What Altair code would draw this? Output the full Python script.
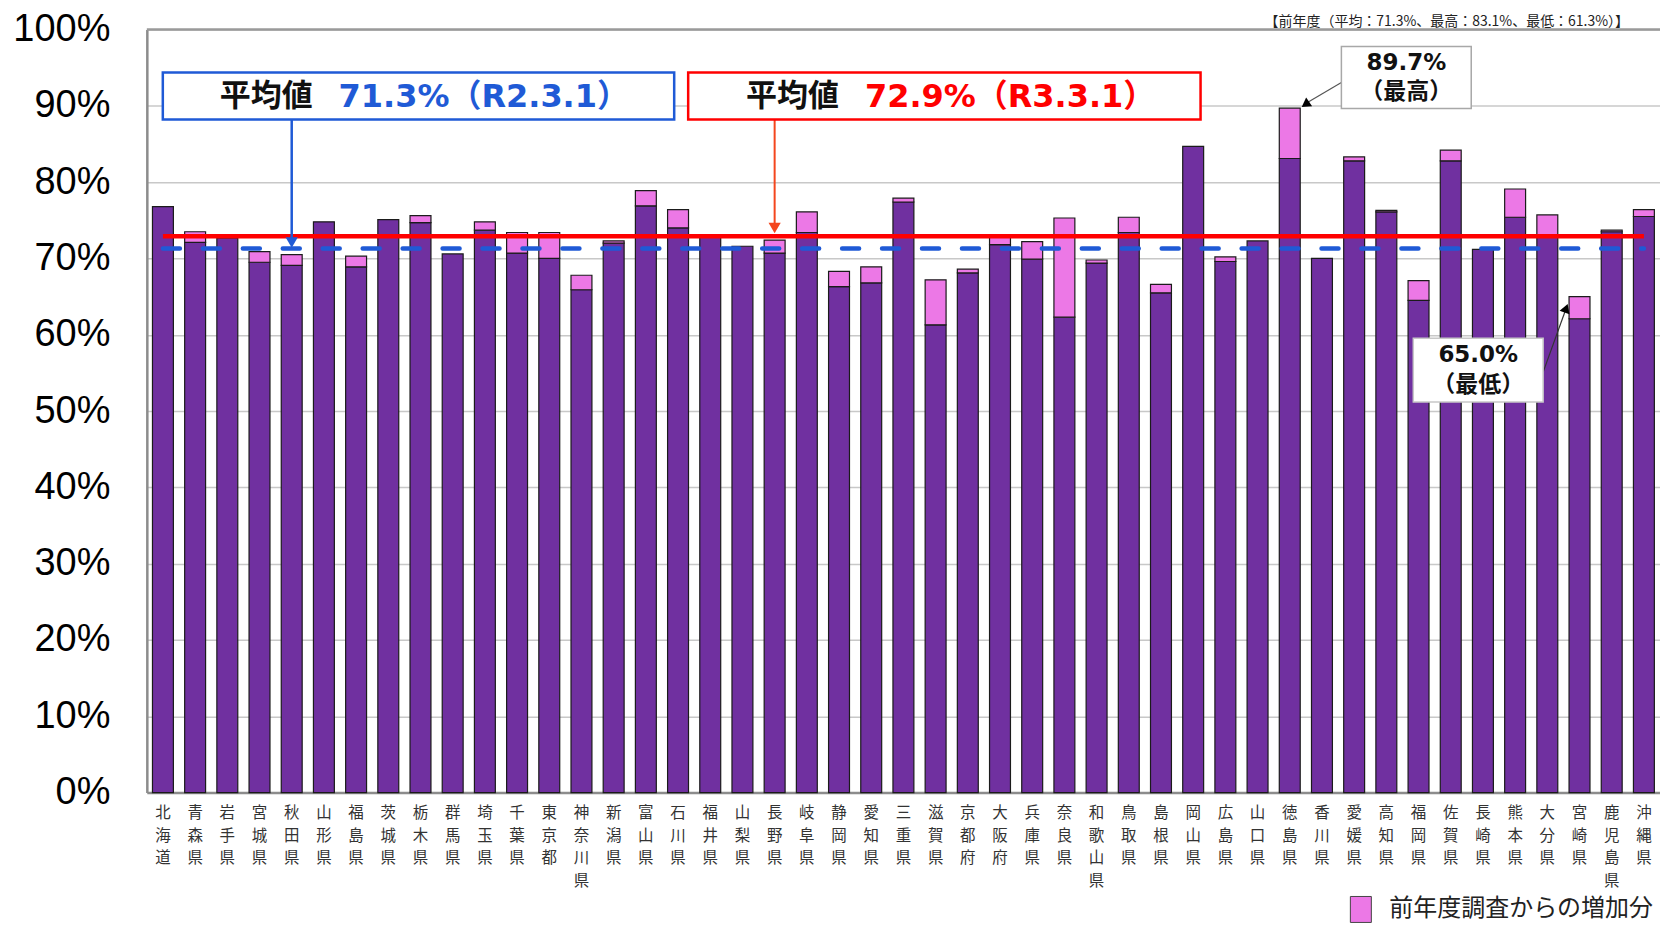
import altair as alt
import pandas as pd

prefs = ["北海道", "青森県", "岩手県", "宮城県", "秋田県", "山形県", "福島県", "茨城県", "栃木県", "群馬県",
         "埼玉県", "千葉県", "東京都", "神奈川県", "新潟県", "富山県", "石川県", "福井県", "山梨県", "長野県",
         "岐阜県", "静岡県", "愛知県", "三重県", "滋賀県", "京都府", "大阪府", "兵庫県", "奈良県", "和歌山県",
         "鳥取県", "島根県", "岡山県", "広島県", "山口県", "徳島県", "香川県", "愛媛県", "高知県", "福岡県",
         "佐賀県", "長崎県", "熊本県", "大分県", "宮崎県", "鹿児島県", "沖縄県"]

# R3.3.1 values (bar tops, %)
rate_r3 = [76.8, 73.5, 72.7, 70.9, 70.5, 74.8, 70.3, 75.1, 75.6, 70.6,
           74.8, 73.4, 73.4, 67.8, 72.3, 78.9, 76.4, 73.1, 71.6, 72.4,
           76.1, 68.3, 68.9, 77.9, 67.2, 68.6, 72.8, 72.2, 75.3, 69.8,
           75.4, 66.6, 84.7, 70.2, 72.3, 89.7, 70.0, 83.3, 76.3, 67.1,
           84.2, 71.2, 79.1, 75.7, 65.0, 73.7, 76.4]
# purple part (previous survey level, %)
rate_r2 = [76.8, 72.1, 72.7, 69.5, 69.1, 74.8, 68.9, 75.1, 74.7, 70.6,
           73.7, 70.7, 70.0, 65.9, 72.0, 76.9, 74.0, 72.8, 71.6, 70.7,
           73.4, 66.3, 66.8, 77.4, 61.3, 68.1, 71.8, 69.9, 62.3, 69.4,
           73.4, 65.5, 84.7, 69.6, 72.3, 83.1, 70.0, 82.8, 76.1, 64.5,
           82.8, 71.2, 75.4, 72.8, 62.1, 73.5, 75.5]

tick_values = [0.0, 0.1, 0.2, 0.3, 0.4, 0.5, 0.6, 0.7, 0.8, 0.9, 1.0]
avg_r2 = 71.3
avg_r3 = 72.9
max_text = ["89.7%", "（最高）"]
min_text = ["65.0%", "（最低）"]
top_note = "【前年度（平均：71.3%、最高：83.1%、最低：61.3%）】"
legend_label = "前年度調査からの増加分"

df = pd.DataFrame({
    "pref": prefs,
    "r3": [v / 100 for v in rate_r3],
    "r2": [v / 100 for v in rate_r2],
})
one = pd.DataFrame({"k": [0]})

PURPLE = "#7030A0"
PINK = "#EC78E6"
BLUE = "#1F5AD6"
RED = "#FF0000"
JP = "Noto Sans CJK JP"
NUM = "DejaVu Sans, Noto Sans CJK JP"

W, H = 1515, 764

x_enc = alt.X(
    "pref:N", sort=prefs, title=None,
    scale=alt.Scale(paddingInner=0.35, paddingOuter=0.175),
    axis=alt.Axis(
        labelAngle=0, labelExpr="split(datum.label, '')", labelFont=JP,
        labelFontSize=15.5, labelColor="#333333", labelLineHeight=22.6,
        labelBaseline="top", labelAlign="center", labelPadding=13,
        ticks=False, grid=False, domainColor="#8c8c8c", domainWidth=2.5,
    ),
)
y_scale = alt.Scale(domain=[0, 1], nice=False)
y_enc = alt.Y(
    "r2:Q", title=None, scale=y_scale,
    axis=alt.Axis(
        values=tick_values, format=".0%", labelFont="Liberation Sans",
        labelFontSize=38, labelColor="#000000", labelPadding=37, ticks=False,
        gridColor="#c8c8c8", gridWidth=1.5, domainColor="#8c8c8c", domainWidth=2.5,
    ),
)

base = alt.Chart(df)
purple = base.mark_bar(color=PURPLE, stroke="#1b1b1b", strokeWidth=1.2).encode(x=x_enc, y=y_enc)
pink = base.transform_filter("datum.r3 > datum.r2").mark_bar(
    color=PINK, stroke="#1b1b1b", strokeWidth=1.2
).encode(x=alt.X("pref:N", sort=prefs, title=None), y=alt.Y("r3:Q", title=None), y2="r2:Q")

top_border = alt.Chart(one).mark_rule(color="#9a9a9a", strokeWidth=2.5).encode(y=alt.datum(1.0))

red_line = alt.Chart(one).mark_rule(color=RED, strokeWidth=4.5).encode(
    x=alt.datum(prefs[0]), x2=alt.datum(prefs[-1]), y=alt.datum(avg_r3 / 100))
blue_line = alt.Chart(one).mark_rule(
    color=BLUE, strokeWidth=4.5, strokeDash=[17, 23], strokeCap="round"
).encode(x=alt.datum(prefs[0]), x2=alt.datum(prefs[-1]), y=alt.datum(avg_r2 / 100))

# arrows from the average boxes
blue_arrow = alt.Chart(one).mark_rule(color=BLUE, strokeWidth=2.5).encode(
    x=alt.datum("秋田県"), y=alt.datum(0.882), y2=alt.datum(0.721))
blue_head = alt.Chart(one).mark_point(shape="triangle-down", filled=True, size=150, color=BLUE, opacity=1).encode(
    x=alt.datum("秋田県"), y=alt.datum(0.721))
red_arrow = alt.Chart(one).mark_rule(color="#F4461E", strokeWidth=2).encode(
    x=alt.datum("長野県"), y=alt.datum(0.882), y2=alt.datum(0.740))
red_head = alt.Chart(one).mark_point(shape="triangle-down", filled=True, size=150, color="#F4461E", opacity=1).encode(
    x=alt.datum("長野県"), y=alt.datum(0.740))

def box(x1, x2, y1, y2, stroke, sw):
    return alt.Chart(one).mark_rect(fill="white", stroke=stroke, strokeWidth=sw).encode(
        x=alt.value(x1), x2=alt.value(x2), y=alt.value(y1), y2=alt.value(y2))

def label(text, xv, yv, size, color="#111111", align="left", weight="bold", baseline="middle", font=JP):
    return alt.Chart(one).mark_text(
        text=text, font=font, fontSize=size, fontWeight=weight, color=color,
        align=align, baseline=baseline
    ).encode(x=alt.value(xv), y=alt.value(yv))

blue_box = box(16, 528, 43, 90, BLUE, 2.5)
blue_t1 = label("平均値", 73, 68, 31)
blue_t2 = label(f"{avg_r2:.1f}%（R2.3.1）", 192, 68, 32, color=BLUE, font=NUM)
red_box = box(542, 1055, 43, 90, RED, 2.5)
red_t1 = label("平均値", 600, 68, 31)
red_t2 = label(f"{avg_r3:.1f}%（R3.3.1）", 719, 68, 32, color=RED, font=NUM)

# max / min callouts
max_line = alt.Chart(one).mark_rule(color="#555555", strokeWidth=1.2).encode(
    x=alt.value(1196), y=alt.value(53), x2=alt.value(1162), y2=alt.value(73))
max_head = alt.Chart(one).mark_point(shape="triangle-up", angle=235, filled=True, size=110, color="#000000", opacity=1).encode(
    x=alt.value(1160), y=alt.value(75))
max_box = box(1196, 1326, 17, 79, "#a8a8a8", 1.5)
max_t1 = label(max_text[0], 1261, 34, 23, align="center", font=NUM)
max_t2 = label(max_text[1], 1261, 63, 23, align="center")

min_line = alt.Chart(one).mark_rule(color="#333333", strokeWidth=1.2).encode(
    x=alt.value(1398), y=alt.value(343), x2=alt.value(1420), y2=alt.value(282))
min_head = alt.Chart(one).mark_point(shape="triangle-up", angle=20, filled=True, size=110, color="#000000", opacity=1).encode(
    x=alt.value(1421), y=alt.value(279))
min_box = box(1268, 1398, 309, 373, "#c8c8c8", 1.5)
min_t1 = label(min_text[0], 1333, 326, 23, align="center", font=NUM)
min_t2 = label(min_text[1], 1333, 356, 23, align="center")

note = label(top_note, 1484, -4, 14, color="#222222", align="right", weight="normal", baseline="alphabetic")

leg_rect = alt.Chart(one).mark_rect(fill=PINK, stroke="#444444", strokeWidth=1).encode(
    x=alt.value(1205), x2=alt.value(1226), y=alt.value(868), y2=alt.value(894))
leg_text = label(legend_label, 1244, 881, 24, color="#222222", weight="normal")

chart = alt.layer(
    purple, pink, top_border, red_line, blue_line,
    blue_arrow, blue_head, red_arrow, red_head,
    blue_box, blue_t1, blue_t2, red_box, red_t1, red_t2,
    max_line, max_head, max_box, max_t1, max_t2,
    min_line, min_head, min_box, min_t1, min_t2,
    note, leg_rect, leg_text,
).properties(
    width=W, height=H,
    autosize=alt.AutoSizeParams(type="none"),
    padding={"left": 139, "top": 21, "right": 0, "bottom": 135},
    background="white",
).configure_view(stroke=None)

chart.save("out.html", embed_options={"renderer": "svg", "actions": False})
